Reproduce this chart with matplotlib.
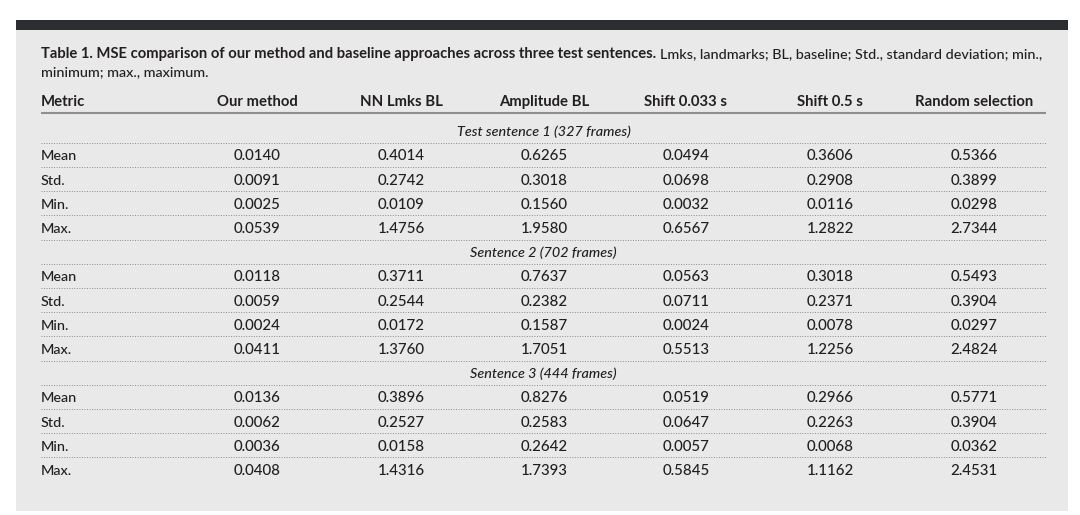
import matplotlib
matplotlib.use("Agg")
import matplotlib.pyplot as plt
from matplotlib.patches import Rectangle

plt.rcParams['font.family'] = ['Lato', 'DejaVu Sans']

# ---------------- data ----------------
title_bold = "Table 1. MSE comparison of our method and baseline approaches across three test sentences."
title_rest = "Lmks, landmarks; BL, baseline; Std., standard deviation; min.,"
title_line2 = "minimum; max., maximum."

columns = ["Metric", "Our method", "NN Lmks BL", "Amplitude BL",
           "Shift 0.033 s", "Shift 0.5 s", "Random selection"]
metrics = ["Mean", "Std.", "Min.", "Max."]
sections = ["Test sentence 1 (327 frames)", "Sentence 2 (702 frames)",
            "Sentence 3 (444 frames)"]

sentence1 = [
    [0.0140, 0.4014, 0.6265, 0.0494, 0.3606, 0.5366],
    [0.0091, 0.2742, 0.3018, 0.0698, 0.2908, 0.3899],
    [0.0025, 0.0109, 0.1560, 0.0032, 0.0116, 0.0298],
    [0.0539, 1.4756, 1.9580, 0.6567, 1.2822, 2.7344],
]
sentence2 = [
    [0.0118, 0.3711, 0.7637, 0.0563, 0.3018, 0.5493],
    [0.0059, 0.2544, 0.2382, 0.0711, 0.2371, 0.3904],
    [0.0024, 0.0172, 0.1587, 0.0024, 0.0078, 0.0297],
    [0.0411, 1.3760, 1.7051, 0.5513, 1.2256, 2.4824],
]
sentence3 = [
    [0.0136, 0.3896, 0.8276, 0.0519, 0.2966, 0.5771],
    [0.0062, 0.2527, 0.2583, 0.0647, 0.2263, 0.3904],
    [0.0036, 0.0158, 0.2642, 0.0057, 0.0068, 0.0362],
    [0.0408, 1.4316, 1.7393, 0.5845, 1.1162, 2.4531],
]
section_values = [sentence1, sentence2, sentence3]

# ---------------- layout ----------------
W, H = 1080, 515
TEXT = "#231f20"
FS_TB = 10.6    # title bold
FS_TR = 10.35   # title regular
FS_H = 10.7     # header bold
FS_B = 10.4     # body labels
FS_N = 10.8     # numbers
REG = "medium"

fig = plt.figure(figsize=(W / 100, H / 100), dpi=100)
fig.patch.set_facecolor("white")
ax = fig.add_axes([0, 0, 1, 1])
ax.set_xlim(0, W)
ax.set_ylim(H, 0)
ax.axis("off")

# panel + dark top bar
ax.add_patch(Rectangle((16, 29), 1052, 482, facecolor="#e9e9e9", edgecolor="none"))
ax.add_patch(Rectangle((16, 20), 1052, 9.5, facecolor="#2b2d31", edgecolor="none"))

left, right = 41, 1046
col_x = [left, 257, 401, 544, 686, 830, 974]

# title
t1 = ax.text(left, 58, title_bold, fontsize=FS_TB, fontweight="bold", color=TEXT,
             va="baseline", ha="left")
fig.canvas.draw()
r = fig.canvas.get_renderer()
bb = t1.get_window_extent(renderer=r)
x_end = ax.transData.inverted().transform((bb.x1, bb.y0))[0]
ax.text(x_end + 4, 58, title_rest, fontsize=FS_TR, fontweight=REG, color=TEXT,
        va="baseline", ha="left")
ax.text(left, 76, title_line2, fontsize=FS_TR, fontweight=REG, color=TEXT,
        va="baseline", ha="left")

# header
hdr_y = 106
for i, c in enumerate(columns):
    ax.text(col_x[i], hdr_y, c, fontsize=FS_H, fontweight="bold", color=TEXT,
            va="baseline", ha="left" if i == 0 else "center")
ax.plot([left, right], [113, 113], color="#8e8e8e", lw=1.5, solid_capstyle="butt")

# body rows
first_base = 136.3
pitch = 24.19
row = 0
n_rows = len(sections) * (1 + len(metrics))
for s, sec in enumerate(sections):
    y = first_base + pitch * row
    ax.text((left + right) / 2, y, sec, fontsize=FS_B, fontstyle="italic", fontweight=REG,
            color=TEXT, va="baseline", ha="center")
    ax.plot([left, right], [y + 6.5, y + 6.5], color="#8a8a8a", lw=0.7,
            linestyle=(0, (1, 1.6)))
    row += 1
    for m, name in enumerate(metrics):
        y = first_base + pitch * row
        ax.text(left, y, name, fontsize=FS_B, fontweight=REG, color=TEXT,
                va="baseline", ha="left")
        for j, v in enumerate(section_values[s][m]):
            ax.text(col_x[j + 1], y, f"{v:.4f}", fontsize=FS_N, fontweight=REG,
                    color=TEXT, va="baseline", ha="center")
        row += 1
        if row < n_rows:
            ax.plot([left, right], [y + 6.5, y + 6.5], color="#8a8a8a", lw=0.7,
                    linestyle=(0, (1, 1.6)))

fig.savefig("out.png", dpi=100, facecolor="white")
